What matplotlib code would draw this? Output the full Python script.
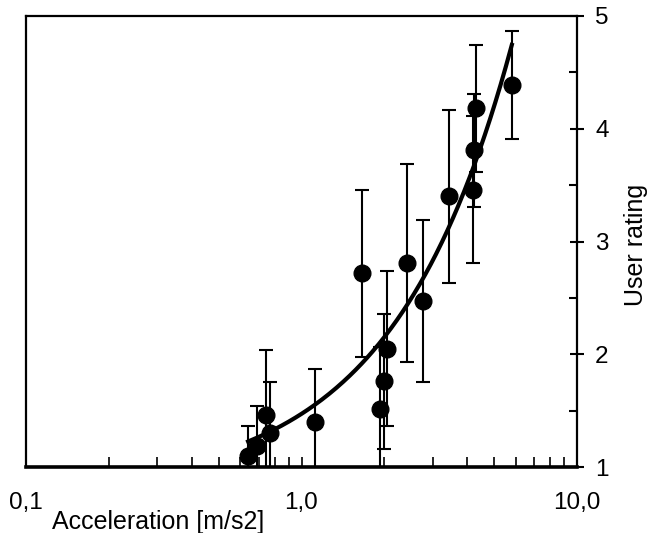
import numpy as np
import matplotlib
matplotlib.use("Agg")
import matplotlib.pyplot as plt
from matplotlib.ticker import FixedLocator, NullFormatter

# veriler
ivme = [0.64, 0.69, 0.745, 0.77, 1.12, 1.66, 1.92, 1.99, 2.04, 2.42, 2.75, 3.42, 4.18, 4.24, 4.30, 5.80]
puan = [1.10, 1.19, 1.46, 1.30, 1.40, 2.72, 1.51, 1.76, 2.05, 2.81, 2.47, 3.40, 3.46, 3.81, 4.18, 4.39]
hata = [0.26, 0.35, 0.58, 0.45, 0.47, 0.74, 0.55, 0.60, 0.69, 0.88, 0.72, 0.77, 0.65, 0.50, 0.56, 0.48]

x_ticks = [0.1, 1.0, 10.0]
x_tick_labels = ["0,1", "1,0", "10,0"]
y_ticks = [1, 2, 3, 4, 5]

plt.rcParams["font.family"] = ["Liberation Sans", "DejaVu Sans"]

fig = plt.figure(figsize=(6.52, 5.33), dpi=100)
ax = fig.add_axes([26 / 652, 1 - 467 / 533, 551 / 652, 451 / 533])

ax.errorbar(ivme, puan, yerr=hata, fmt="o", color="black", ms=12,
            elinewidth=1.5, capsize=5, capthick=1.5, zorder=3)

# dogrusal trend cizgisi (veriye en kucuk kareler uyumu)
egim, kesim = np.polyfit(ivme, puan, 1)
xs = np.linspace(min(ivme), max(ivme), 200)
ax.plot(xs, kesim + egim * xs, color="black", lw=3, zorder=4)

ax.set_xscale("log")
ax.set_xlim(0.1, 10)
ax.set_ylim(1, 5)

ax.xaxis.set_major_locator(FixedLocator(x_ticks))
ax.set_xticklabels(x_tick_labels)
ax.xaxis.set_minor_locator(FixedLocator([m * d for d in [0.1, 1.0] for m in range(2, 10)]))
ax.xaxis.set_minor_formatter(NullFormatter())
ax.tick_params(axis="x", which="both", direction="in", length=7, width=1.2,
               labelsize=17.5, pad=18)

ax.yaxis.tick_right()
ax.set_yticks(y_ticks)
ax.set_yticks([1.5, 2.5, 3.5, 4.5], minor=True)
ax.tick_params(axis="y", which="major", direction="inout", length=10, width=1.5,
               labelsize=17.5, pad=8)
ax.tick_params(axis="y", which="minor", direction="in", length=6, width=1.5)
ax.tick_params(axis="y", which="both", left=False, right=True)

for s in ["left", "top", "right"]:
    ax.spines[s].set_linewidth(1.6)
ax.spines["bottom"].set_linewidth(2.6)

fig.text(158 / 652, 1 - 522 / 533, "Acceleration [m/s2]", fontsize=18,
         ha="center", va="center")
fig.text(636 / 652, 1 - 245 / 533, "User rating", fontsize=18,
         ha="center", va="center", rotation=90)

fig.savefig("out.png", dpi=100)
